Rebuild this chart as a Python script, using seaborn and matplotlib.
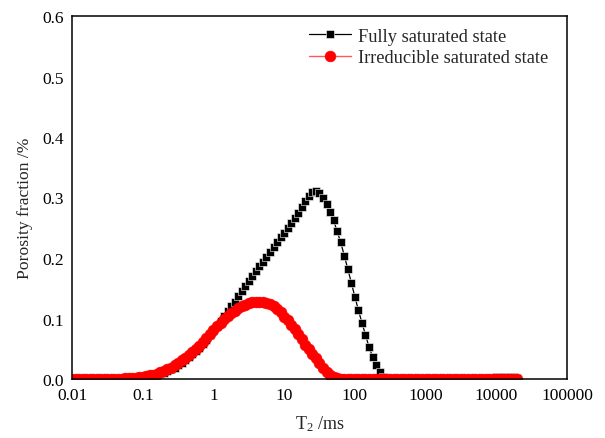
import matplotlib
matplotlib.use("Agg")
import matplotlib.pyplot as plt
import pandas as pd
import seaborn as sns
from matplotlib.ticker import FixedLocator, FixedFormatter, MultipleLocator, LogLocator, NullFormatter

# ---------------- data ----------------
t2_ms = [
    0.01000, 0.01122, 0.01259, 0.01413, 0.01585, 0.01778, 0.01995, 0.02239, 0.02512, 0.02818,
    0.03162, 0.03548, 0.03981, 0.04467, 0.05012, 0.05623, 0.06310, 0.07079, 0.07943, 0.08913,
    0.1000, 0.1122, 0.1259, 0.1413, 0.1585, 0.1778, 0.1995, 0.2239, 0.2512, 0.2818,
    0.3162, 0.3548, 0.3981, 0.4467, 0.5012, 0.5623, 0.6310, 0.7079, 0.7943, 0.8913,
    1.000, 1.122, 1.259, 1.413, 1.585, 1.778, 1.995, 2.239, 2.512, 2.818,
    3.162, 3.548, 3.981, 4.467, 5.012, 5.623, 6.310, 7.079, 7.943, 8.913,
    10.00, 11.22, 12.59, 14.13, 15.85, 17.78, 19.95, 22.39, 25.12, 28.18,
    31.62, 35.48, 39.81, 44.67, 50.12, 56.23, 63.10, 70.79, 79.43, 89.13,
    100.0, 112.2, 125.9, 141.3, 158.5, 177.8, 199.5, 223.9, 251.2, 281.8,
    316.2, 354.8, 398.1, 446.7, 501.2, 562.3, 631.0, 707.9, 794.3, 891.3,
    1000.0, 1122.0, 1259.0, 1413.0, 1585.0, 1778.0, 1995.0, 2239.0, 2512.0, 2818.0,
    3162.0, 3548.0, 3981.0, 4467.0, 5012.0, 5623.0, 6310.0, 7079.0, 7943.0, 8913.0,
    10000.0, 11220.0, 12590.0, 14130.0, 15850.0, 17780.0, 19950.0,
]

fully_saturated = [
    0.000, 0.000, 0.000, 0.000, 0.000, 0.000, 0.000, 0.000, 0.000, 0.000,
    0.000, 0.000, 0.000, 0.000, 0.000, 0.000, 0.000, 0.000, 0.001, 0.001,
    0.002, 0.003, 0.004, 0.005, 0.006, 0.008, 0.010, 0.013, 0.016, 0.019,
    0.023, 0.027, 0.031, 0.036, 0.041, 0.046, 0.052, 0.058, 0.065, 0.072,
    0.080, 0.088, 0.096, 0.104, 0.112, 0.120, 0.128, 0.137, 0.145, 0.154,
    0.162, 0.170, 0.178, 0.186, 0.194, 0.202, 0.210, 0.218, 0.226, 0.234,
    0.242, 0.250, 0.258, 0.266, 0.275, 0.285, 0.295, 0.303, 0.309, 0.310,
    0.307, 0.300, 0.289, 0.276, 0.262, 0.244, 0.226, 0.204, 0.182, 0.159,
    0.136, 0.114, 0.093, 0.073, 0.053, 0.037, 0.023, 0.011, 0.003, 0.000,
    0.000, 0.000, 0.000, 0.000, 0.000, 0.000, 0.000, 0.000, 0.000, 0.000,
    0.000, 0.000, 0.000, 0.000, 0.000, 0.000, 0.000, 0.000, 0.000, 0.000,
    0.000, 0.000, 0.000, 0.000, 0.000, 0.000, 0.000, 0.000, 0.001, 0.002,
    0.003, 0.004, 0.004, 0.004, 0.004, 0.003, 0.002,
]

irreducible_saturated = [
    0.000, 0.000, 0.000, 0.000, 0.000, 0.000, 0.000, 0.000, 0.000, 0.000,
    0.000, 0.000, 0.000, 0.000, 0.000, 0.001, 0.001, 0.002, 0.002, 0.003,
    0.004, 0.005, 0.006, 0.007, 0.009, 0.011, 0.013, 0.016, 0.019, 0.023,
    0.027, 0.031, 0.035, 0.039, 0.044, 0.049, 0.055, 0.061, 0.067, 0.074,
    0.081, 0.087, 0.093, 0.099, 0.104, 0.109, 0.113, 0.117, 0.120, 0.123,
    0.125, 0.127, 0.128, 0.128, 0.128, 0.126, 0.124, 0.121, 0.116, 0.110,
    0.103, 0.097, 0.090, 0.082, 0.074, 0.066, 0.057, 0.049, 0.041, 0.034,
    0.026, 0.019, 0.012, 0.007, 0.003, 0.001, 0.000, 0.000, 0.000, 0.000,
    0.000, 0.000, 0.000, 0.000, 0.000, 0.000, 0.000, 0.000, 0.000, 0.000,
    0.000, 0.000, 0.000, 0.000, 0.000, 0.000, 0.000, 0.000, 0.000, 0.000,
    0.000, 0.000, 0.000, 0.000, 0.000, 0.000, 0.000, 0.000, 0.000, 0.000,
    0.000, 0.000, 0.000, 0.000, 0.000, 0.000, 0.000, 0.000, 0.000, 0.000,
    0.000, 0.000, 0.000, 0.000, 0.000, 0.000, 0.000,
]

series_labels = ["Fully saturated state", "Irreducible saturated state"]
x_tick_values = [0.01, 0.1, 1, 10, 100, 1000, 10000, 100000]
x_tick_labels = ["0.01", "0.1", "1", "10", "100", "1000", "10000", "100000"]
y_tick_values = [0.0, 0.1, 0.2, 0.3, 0.4, 0.5, 0.6]
y_tick_labels = ["0.0", "0.1", "0.2", "0.3", "0.4", "0.5", "0.6"]
x_label = r"T$_2$ /ms"
y_label = "Porosity fraction /%"

# ---------------- style ----------------
sns.set_style("white")
plt.rcParams["font.family"] = ["Liberation Serif", "DejaVu Serif"]
plt.rcParams["mathtext.fontset"] = "custom"
plt.rcParams["mathtext.rm"] = "Liberation Serif"
plt.rcParams["mathtext.it"] = "Liberation Serif:italic"

fig = plt.figure(figsize=(6.05, 4.39), dpi=100)
ax = fig.add_axes([72 / 605, 1 - 380 / 439, (567 - 72) / 605, (380 - 17) / 439])

df_full = pd.DataFrame({"T2": t2_ms, "value": fully_saturated})
df_irr = pd.DataFrame({"T2": t2_ms, "value": irreducible_saturated})

sns.lineplot(data=df_full, x="T2", y="value", ax=ax, color="black",
             marker="s", markersize=5.6, markeredgewidth=0.4, linewidth=0.9,
             estimator=None, sort=False, label=series_labels[0])
sns.lineplot(data=df_irr, x="T2", y="value", ax=ax, color="#ff5a5a",
             marker="o", markersize=7.8, markeredgewidth=0.4,
             markerfacecolor="red", markeredgecolor="red", linewidth=1.0,
             estimator=None, sort=False, label=series_labels[1])

ax.set_xscale("log")
ax.set_xlim(0.01, 100000)
ax.set_ylim(0, 0.6)

ax.xaxis.set_major_locator(FixedLocator(x_tick_values))
ax.xaxis.set_major_formatter(FixedFormatter(x_tick_labels))
ax.xaxis.set_minor_locator(LogLocator(base=10, subs=range(2, 10), numticks=20))
ax.xaxis.set_minor_formatter(NullFormatter())
ax.yaxis.set_major_locator(FixedLocator(y_tick_values))
ax.yaxis.set_major_formatter(FixedFormatter(y_tick_labels))
ax.yaxis.set_minor_locator(MultipleLocator(0.05))

ax.tick_params(which="both", direction="in", top=False, right=False,
               colors="black", width=1.0)
ax.tick_params(which="major", length=5, labelsize=12.5)
ax.tick_params(which="minor", length=3)
ax.tick_params(axis="x", which="major", pad=5.5)
ax.tick_params(axis="y", which="major", pad=5.5)

for s in ax.spines.values():
    s.set_color("black")
    s.set_linewidth(1.1)

ax.set_xlabel(x_label, fontsize=13, labelpad=8)
ax.set_ylabel(y_label, fontsize=12.6, labelpad=7)
ax.yaxis.label.set_y(0.472)

ax.legend(loc="upper right", bbox_to_anchor=(0.982, 0.995), frameon=False,
          fontsize=13.2, handlelength=2.3, handletextpad=0.35, labelspacing=0.25,
          borderaxespad=0.15)

fig.savefig("out.png", dpi=100)
